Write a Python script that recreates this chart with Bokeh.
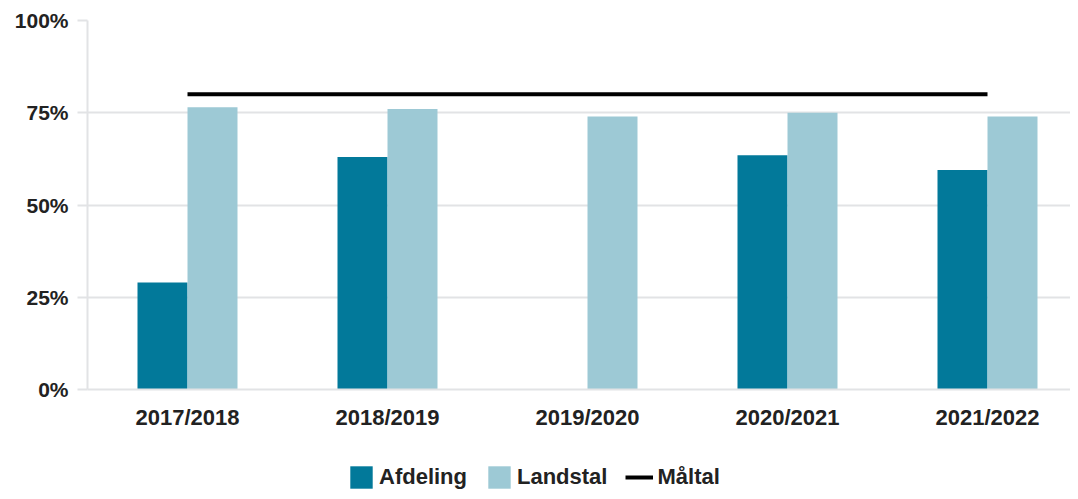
from bokeh.plotting import figure
from bokeh.layouts import column
from bokeh.models import Range1d, FixedTicker, NumeralTickFormatter, Legend, LegendItem, ColumnDataSource
from bokeh.embed import file_html
from bokeh.resources import INLINE

categories = ["2017/2018", "2018/2019", "2019/2020", "2020/2021", "2021/2022"]
afdeling = [0.29, 0.63, float("nan"), 0.635, 0.595]
landstal = [0.765, 0.76, 0.74, 0.75, 0.74]
maaltal = [0.80, 0.80, 0.80, 0.80, 0.80]
y_ticks = [0, 0.25, 0.5, 0.75, 1.0]
series_names = ["Afdeling", "Landstal", "Måltal"]

DARK = "#02799A"
LIGHT = "#9DC9D5"
GRID = "#E2E3E5"
FONT = "Liberation Sans"

idx = [i + 0.5 for i in range(len(categories))]
src = ColumnDataSource(dict(
    x=idx,
    xa=[v - 0.125 for v in idx],
    xl=[v + 0.125 for v in idx],
    afd=afdeling, land=landstal, maal=maaltal,
))

p = figure(width=1070, height=434, output_backend="svg", toolbar_location=None,
           x_range=Range1d(0, 4.915), y_range=Range1d(0, 1.0),
           min_border_left=87, min_border_right=0, min_border_top=20, min_border_bottom=45)
p.outline_line_color = None
p.background_fill_color = "white"

p.vbar(x="xa", top="afd", width=0.25, source=src, fill_color=DARK, line_color=None)
p.vbar(x="xl", top="land", width=0.25, source=src, fill_color=LIGHT, line_color=None)
p.line(x="x", y="maal", source=src, line_color="black", line_width=4)

p.xgrid.grid_line_color = None
p.ygrid.grid_line_color = GRID
p.ygrid.grid_line_width = 2
p.ygrid.ticker = FixedTicker(ticks=y_ticks)

p.yaxis.ticker = FixedTicker(ticks=y_ticks)
p.yaxis.formatter = NumeralTickFormatter(format="0%")
p.yaxis.axis_line_color = GRID
p.yaxis.axis_line_width = 2
p.yaxis.major_tick_line_color = GRID
p.yaxis.major_tick_line_width = 2
p.yaxis.major_tick_out = 10
p.yaxis.major_tick_in = 0
p.yaxis.minor_tick_line_color = None
p.yaxis.major_label_text_font = FONT
p.yaxis.major_label_text_font_style = "bold"
p.yaxis.major_label_text_font_size = "21px"
p.yaxis.major_label_text_color = "#222222"
p.yaxis.major_label_standoff = 9

p.xaxis.ticker = FixedTicker(ticks=idx)
p.xaxis.major_label_overrides = {v: c for v, c in zip(idx, categories)}
p.xaxis.axis_line_color = GRID
p.xaxis.axis_line_width = 2
p.xaxis.major_tick_line_color = None
p.xaxis.minor_tick_line_color = None
p.xaxis.major_label_text_font = FONT
p.xaxis.major_label_text_font_style = "bold"
p.xaxis.major_label_text_font_size = "22px"
p.xaxis.major_label_text_color = "#222222"
p.xaxis.major_label_standoff = 9

# legend strip below the chart (its glyphs sit outside the visible range)
lg = figure(width=1070, height=57, output_backend="svg", toolbar_location=None,
            x_range=Range1d(0, 1), y_range=Range1d(0, 1),
            x_axis_location=None, y_axis_location=None,
            min_border_left=0, min_border_right=0, min_border_top=0, min_border_bottom=0)
lg.outline_line_color = None
lg.xgrid.grid_line_color = None
lg.ygrid.grid_line_color = None
hidden = ColumnDataSource(dict(x=[5, 6], y=[5, 5]))
g1 = lg.vbar(x="x", top="y", bottom=4, width=0.1, source=hidden, fill_color=DARK, line_color=None)
g2 = lg.vbar(x="x", top="y", bottom=4, width=0.1, source=hidden, fill_color=LIGHT, line_color=None)
g3 = lg.line(x="x", y="y", source=hidden, line_color="black", line_width=4)

legend = Legend(items=[LegendItem(label=n, renderers=[g]) for n, g in zip(series_names, [g1, g2, g3])],
                orientation="horizontal", location=(260, 0),
                glyph_width=28, glyph_height=28, label_standoff=4, spacing=18,
                padding=0, margin=0, border_line_color=None, background_fill_alpha=0,
                label_text_font=FONT, label_text_font_style="bold",
                label_text_font_size="22px", label_text_color="#222222")
lg.add_layout(legend, "center")

layout = column(p, lg, spacing=0)
open("out.html", "w").write(file_html(layout, INLINE))
